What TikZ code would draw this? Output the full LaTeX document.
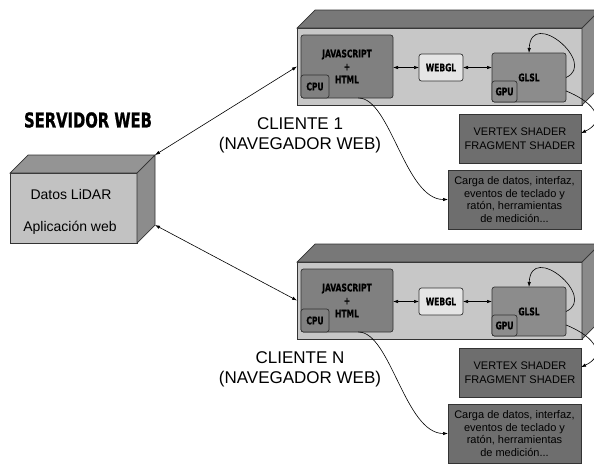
\documentclass[tikz,border=0pt]{standalone}
\usepackage{fontspec}
\setmainfont{Liberation Sans}
\newfontfamily\heavy{DejaVu Sans Condensed}[BoldFeatures={FakeBold=1}]
\usepackage{graphicx}
\usetikzlibrary{
	arrows.meta,
	positioning,
	calc
}

\definecolor{sfront}{gray}{0.76}
\definecolor{stop}{gray}{0.58}
\definecolor{sside}{gray}{0.55}
\definecolor{cfront}{gray}{0.78}
\definecolor{ctop}{gray}{0.47}
\definecolor{cside}{gray}{0.54}
\definecolor{cjs}{gray}{0.50}
\definecolor{cwebgl}{gray}{0.90}
\definecolor{cglsl}{gray}{0.55}
\definecolor{cnote}{gray}{0.43}

\newcommand{\hv}[1]{{\heavy\bfseries\scalebox{0.8}[1]{#1}}}

\begin{document}
\begin{tikzpicture}[
			x=1pt, y=-1pt,
			>={Latex[length=5pt, width=3.5pt]},
			face/.style={draw=black!80, line width=0.7pt},
			frontbox/.style={face, rectangle, anchor=north west, inner sep=0pt, outer sep=0pt},
			part/.style={face, rounded corners=2.5pt, anchor=north west, inner sep=0pt, outer sep=0pt, align=center, font=\fontsize{10.5}{13}\selectfont},
			note/.style={face, fill=cnote, anchor=north west, inner sep=0pt, outer sep=0pt, align=center},
			lbl/.style={align=center, font=\fontsize{17}{20}\selectfont},
			fl/.style={<->, line width=0.6pt},
			cv/.style={->, line width=0.6pt}
		]
		\useasboundingbox (0,0) rectangle (594,464);
		\clip (0,0) rectangle (594,464);

		% servidor
		\node[frontbox, fill=sfront, minimum width=127pt, minimum height=70pt] (srv) at (10,173) {};
		\filldraw[face, fill=stop] (srv.north west) -- ++(18,-18) -- ++(127,0) -- (srv.north east) -- cycle;
		\filldraw[face, fill=sside] (srv.north east) -- ++(18,-18) -- ++(0,70) -- (srv.south east) -- cycle;
		\coordinate (srvtop) at ($(srv.north east)+(18,-18)$);
		\coordinate (srvbot) at ($(srv.south east)+(18,-18)$);
		\node[font=\fontsize{14}{16}\selectfont] (lidar) at (71,194) {Datos LiDAR};
		\node[font=\fontsize{14}{16}\selectfont] (app) at (70,228) {Aplicación web};
		\node[font=\fontsize{20.5}{22}\selectfont] (srvname) at (88,120) {\hv{SERVIDOR WEB}};

		% clientes
		\foreach \cl/\oy/\lab in {1/0/1, 2/234/N}{
			\node[frontbox, fill=cfront, minimum width=285pt, minimum height=77pt] (cl\cl) at (297,28+\oy) {};
			\filldraw[face, fill=ctop] (cl\cl.north west) -- ++(18,-18) -- ++(285,0) -- (cl\cl.north east) -- cycle;
			\filldraw[face, fill=cside] (cl\cl.north east) -- ++(18,-18) -- ++(0,77) -- (cl\cl.south east) -- cycle;

			\node[part, fill=cjs, minimum width=92pt, minimum height=63pt] (js\cl) at (301,35+\oy) {\hv{JAVASCRIPT}\\\hv{+}\\\hv{HTML}};
			\node[part, fill=cjs, minimum width=28pt, minimum height=23pt] (cpu\cl) at (301,75+\oy) {\hv{CPU}};
			\node[part, fill=cwebgl, minimum width=44pt, minimum height=27pt] (webgl\cl) at (419,54+\oy) {\hv{WEBGL}};
			\node[part, fill=cglsl, minimum width=74pt, minimum height=49pt] (glsl\cl) at (492,53+\oy) {\hv{GLSL}};
			\node[part, fill=cglsl, minimum width=25pt, minimum height=21pt] (gpu\cl) at (492,81+\oy) {\hv{GPU}};

			\node[note, minimum width=122pt, minimum height=49pt, font=\fontsize{11}{14}\selectfont] (vtx\cl) at (459,114+\oy) {VERTEX SHADER\\FRAGMENT SHADER};
			\node[note, minimum width=133pt, minimum height=59pt, font=\fontsize{11}{12.7}\selectfont] (carga\cl) at (448,170+\oy) {Carga de datos, interfaz,\\eventos de teclado y\\ratón, herramientas\\de medición...};
			\node[lbl] (name\cl) at (300,135+\oy) {CLIENTE \lab\\(NAVEGADOR WEB)};

			\draw[fl] (js\cl.east |- webgl\cl.west) -- (webgl\cl.west);
			\draw[fl] (webgl\cl.east) -- (webgl\cl.east -| glsl\cl.west);
			\draw[cv] (glsl\cl.east) .. controls +(32,-14) and +(2,-46) .. (glsl\cl.north);
			\draw[cv] (glsl\cl.-20) .. controls +(32,13) and +(24,-11) .. (vtx\cl.5);
			\draw[cv] (js\cl.-70) .. controls +(32,0) and +(-43,0) .. (carga\cl.west);
		}

		\draw[fl] (srvtop) -- (cl1.west);
		\draw[fl] (srvbot) -- (cl2.west);
	\end{tikzpicture}
\end{document}
